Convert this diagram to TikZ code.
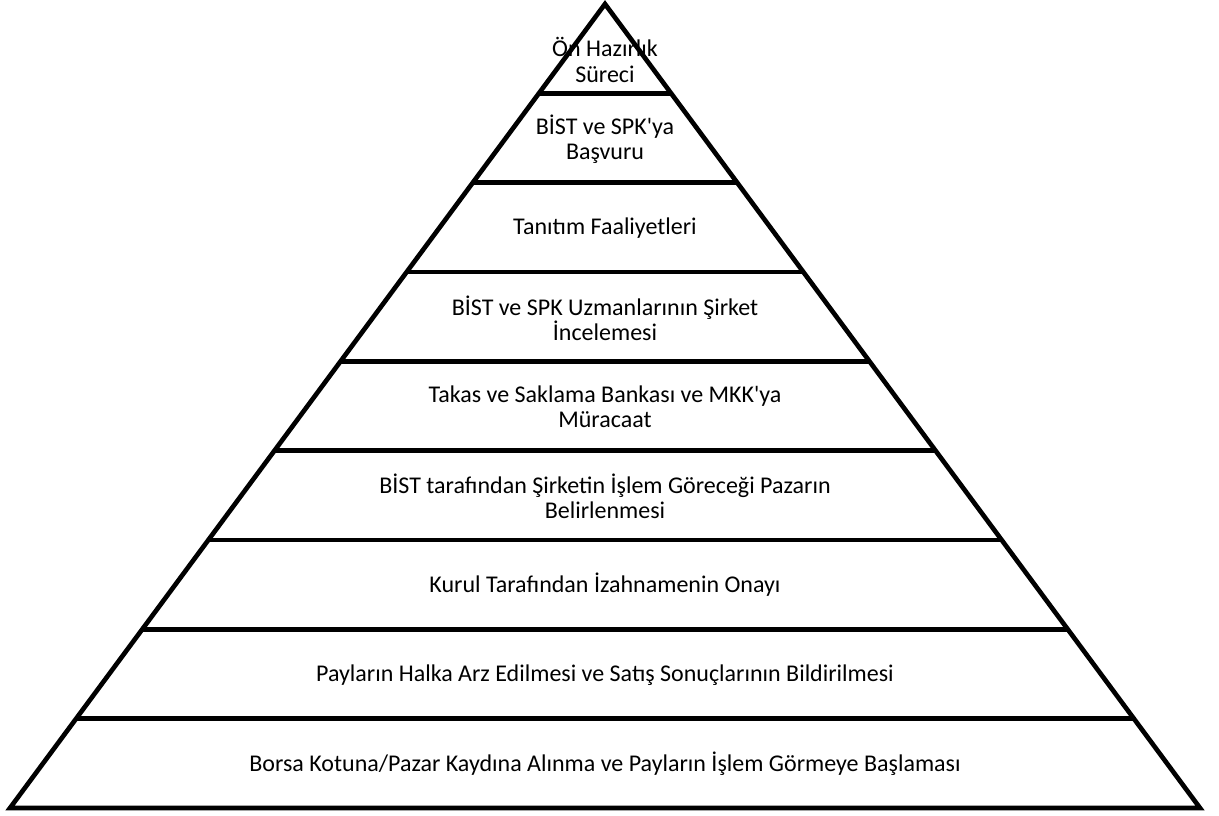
\documentclass[tikz,border=0pt]{standalone}
\usepackage{fontspec}
\setmainfont{Carlito}[Ligatures=TeXOff]
\usetikzlibrary{calc}
\begin{document}
\begin{tikzpicture}[x=0.75pt,y=-0.75pt,
  edge/.style={line width=3.5pt,line join=miter},
  label/.style={align=center,font=\fontsize{18pt}{19pt}\selectfont,inner sep=0pt}]
\useasboundingbox (0,0) rectangle (1219,815);
\coordinate (A) at (605,4);
\coordinate (L) at (10,808);
\coordinate (R) at (1200,808);
\draw[edge] (L) -- (A) -- (R) -- cycle;
\foreach \k in {1,...,8} {
  \draw[edge] ($(A)!\k/9!(L)$) -- ($(A)!\k/9!(R)$);
}
\node[label] (t1) at (605,60) {Ön Hazırlık\\Süreci};
\node[label] (t2) at (605,139) {BİST ve SPK'ya\\Başvuru};
\node[label] (t3) at (605,228) {Tanıtım Faaliyetleri};
\node[label] (t4) at (605,318) {BİST ve SPK Uzmanlarının Şirket\\İncelemesi};
\node[label] (t5) at (605,407) {Takas ve Saklama Bankası ve MKK'ya\\Müracaat};
\node[label] (t6) at (605,496) {BİST tarafından Şirketin İşlem Göreceği Pazarın\\Belirlenmesi};
\node[label] (t7) at (605,585) {Kurul Tarafından İzahnamenin Onayı};
\node[label] (t8) at (605,675) {Payların Halka Arz Edilmesi ve Satış Sonuçlarının Bildirilmesi};
\node[label] (t9) at (605,764) {Borsa Kotuna/Pazar Kaydına Alınma ve Payların İşlem Görmeye Başlaması};
\end{tikzpicture}
\end{document}
